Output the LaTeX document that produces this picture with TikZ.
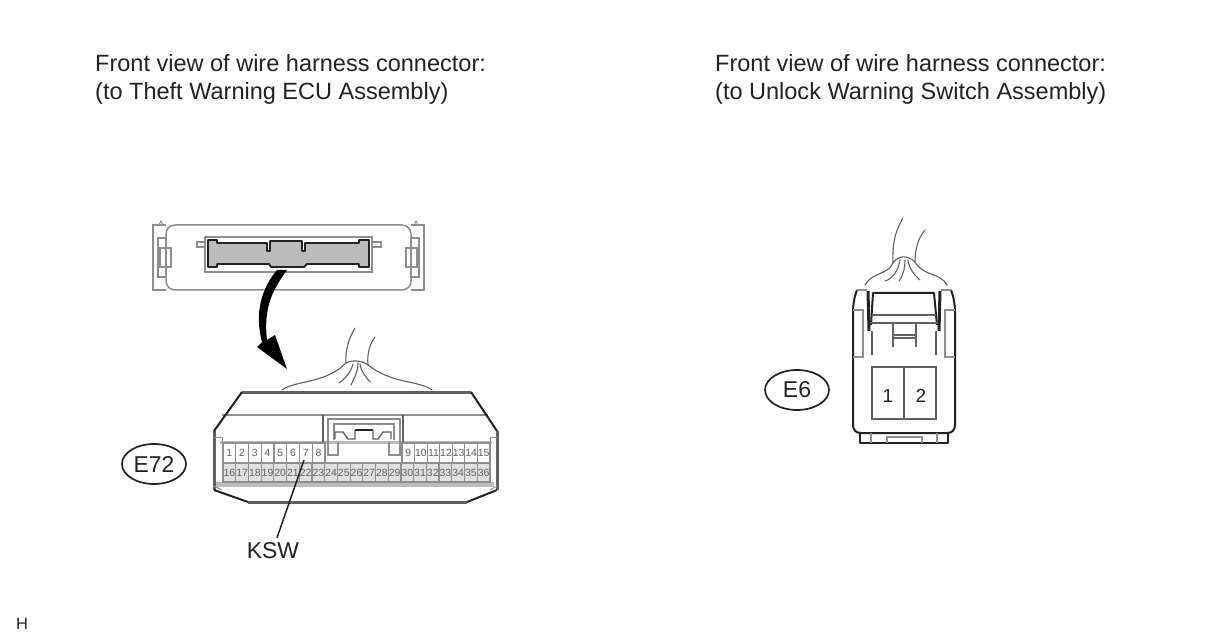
\documentclass[tikz,border=0pt]{standalone}
\usepackage{fontspec}
\setmainfont{Liberation Sans}
\definecolor{ink}{HTML}{222222}
\definecolor{mid}{HTML}{606060}
\definecolor{soft}{HTML}{8E8E8E}
\definecolor{band}{HTML}{BBBBBB}
\definecolor{pale}{HTML}{E0E0E0}
\tikzset{
  title/.style={anchor=base west,inner sep=0pt,text=ink,font=\fontsize{23.6}{26}\selectfont},
  tag/.style={draw=ink,line width=1.7bp,ellipse,minimum width=64bp,minimum height=40bp,inner sep=0pt,text=ink,font=\fontsize{23}{25}\selectfont},
  label/.style={anchor=base,inner sep=0pt,text=ink,font=\fontsize{23}{25}\selectfont},
  pinno/.style={inner sep=0pt,text=mid,font=\fontsize{10.5}{11}\selectfont},
  bold/.style={draw=ink,line width=2bp,line join=round},
  heavy/.style={draw=mid,line width=3bp},
  thin/.style={draw=soft,line width=1.5bp},
  wire/.style={draw=mid,line width=1.1bp,line cap=round},
}
\usetikzlibrary{shapes.geometric}
\begin{document}
\begin{tikzpicture}[x=1bp,y=-1bp]
\useasboundingbox (0,0) rectangle (1208,644);
\fill[white] (0,0) rectangle (1208,644);

% titles
\node[title] (t1) at (95,72) {Front view of wire harness connector:};
\node[title] (t2) at (95,100) {(to Theft Warning ECU Assembly)};
\node[title] (t3) at (715,72) {Front view of wire harness connector:};
\node[title] (t4) at (715,100) {(to Unlock Warning Switch Assembly)};
\node[anchor=base west,inner sep=0pt,text=ink,font=\fontsize{16.5}{18}\selectfont] (h) at (16,629) {H};

% --- top view of ECU connector
\draw[thin] (166,225) -- (153,225) -- (153,290) -- (166,290);
\draw[thin] (411,225) -- (424,225) -- (424,290) -- (411,290);
\draw[thin,rounded corners=9bp] (166,290) -- (166,225) -- (411,225) -- (411,290) -- cycle;
\draw[thin,line width=.9bp] (159,225) -- (161,221) -- (163,225);
\draw[thin,line width=.9bp] (414,225) -- (416,221) -- (418,225);
\draw[thin] (158,238) rectangle (166,277);
\draw[thin] (160,248) rectangle (171,267);
\draw[thin] (411,238) rectangle (419,277);
\draw[thin] (406,248) rectangle (417,267);
\draw[thin] (205,242) -- (197,242) -- (197,247) -- (205,247);
\draw[thin] (372,242) -- (381,242) -- (381,247) -- (372,247);
\draw[thin,line width=1.8bp] (205,237) rectangle (372,272);
\filldraw[fill=band,draw=ink,line width=1.8bp,line join=round]
  (208,240) -- (217,240) -- (217,243) -- (267,243) -- (267,251) -- (270,251) -- (270,241)
  -- (302,241) -- (302,251) -- (305,251) -- (305,243) -- (359,243) -- (359,240) -- (369,240)
  -- (369,267) -- (359,267) -- (359,264) -- (307,264) -- (304,267) -- (271,267) -- (269,264)
  -- (217,264) -- (217,267) -- (208,267) -- cycle;

% curved arrow
\fill[black] (277,270) -- (287,270) .. controls (274,288) and (263,306) .. (267,340)
  -- (275,335) -- (287,369) -- (257,347) -- (262,342)
  .. controls (254,312) and (262,288) .. (277,270) -- cycle;

% --- E72 body
\draw[thin] (222,415) -- (488,415);
\fill[band] (220,441) rectangle (492,444);
\fill[band] (216,482) rectangle (494,487);
\fill[pale] (223,463) rectangle (490,482);
\draw[heavy] (242,392) -- (471,392);
\draw[heavy] (248,502) -- (467,502);
\draw[heavy] (214,431) -- (214,490);
\draw[heavy] (497,431) -- (497,490);
\draw[bold] (214,431) -- (242,392);
\draw[bold] (471,392) -- (497,431);
\draw[bold] (214,490) -- (248,502);
\draw[bold] (467,502) -- (497,490);
\draw[thin,line width=1bp] (214,437) -- (222,437) -- (222,443);
\draw[thin,line width=1bp] (497,437) -- (490,437) -- (490,443);
\draw[thin,line width=1bp] (214,486) -- (222,490);
\draw[thin,line width=1bp] (497,486) -- (490,490);

% centre housing
\draw[draw=mid,line width=1.4bp] (323,415) -- (323,442);
\draw[draw=mid,line width=1.4bp] (403,415) -- (403,442);
\draw[thin,line width=1.7bp] (338,442) -- (338,455) -- (328,455) -- (328,419) -- (400,419) -- (400,455) -- (389,455) -- (389,442);
\draw[thin,line width=1.7bp] (334,440) -- (334,424) -- (394,424) -- (394,440);
\draw[draw=mid,line width=1.4bp] (335,439) -- (335,432) -- (343,432) -- (348,439) -- (355,439) -- (355,430);
\draw[draw=ink,line width=2bp] (355,430) -- (373,430);
\draw[draw=mid,line width=1.4bp] (373,430) -- (373,439) -- (378,439) -- (383,432) -- (391,432) -- (391,439);

% pin cells
\draw[thin,line width=1.2bp] (325,463) -- (325,443) -- (223,443) -- (223,482) -- (490,482) -- (490,443) -- (402,443) -- (402,463);
\draw[thin,line width=1.2bp] (223,463) -- (490,463);
\foreach \i in {1,...,7} \draw[thin,line width=1.2bp] ({223+\i*12.75},443) -- ({223+\i*12.75},463);
\foreach \i in {1,...,6} \draw[thin,line width=1.2bp] ({402+\i*12.57},443) -- ({402+\i*12.57},463);
\foreach \i in {1,...,20} \draw[thin,line width=1.2bp] ({223+\i*12.71},463) -- ({223+\i*12.71},482);
\foreach \n [count=\i from 0] in {1,...,8} \node[pinno] (p\n) at ({229.4+\i*12.75},453) {\n};
\foreach \n [count=\i from 0] in {9,...,15} \node[pinno] (p\n) at ({408.3+\i*12.57},453) {\n};
\foreach \n [count=\i from 0] in {16,...,36} \node[pinno] (p\n) at ({229.4+\i*12.71},472.5) {\n};

% E72 wires
\draw[wire] (355,328) .. controls (349,338) and (345,350) .. (346,363);
\draw[wire] (375,337) .. controls (369,345) and (367,355) .. (368,365);
\draw[wire] (346,363) .. controls (351,360) and (362,360) .. (368,365);
\draw[wire] (282,390) .. controls (296,380) and (325,384) .. (346,363);
\draw[wire] (432,390) .. controls (418,380) and (392,384) .. (368,365);
\draw[wire] (339,383) .. controls (345,379) and (351,372) .. (353,364);
\draw[wire] (351,385) .. controls (354,378) and (358,372) .. (358,363);
\draw[wire] (370,382) .. controls (366,377) and (361,372) .. (360,364);

% tags and leader
\node[tag] (e72) at (154,464) {E72};
\node[label] (ksw) at (273,558) {KSW};
\coordinate (kswpin) at (304,460);
\draw[draw=ink,line width=1.5bp] (ksw.north) ++(4,-4) -- (kswpin);

% --- E6 connector
\node[tag] (e6) at (797,390) {E6};
\draw[bold] (857,290) .. controls (854,298) and (853,305) .. (853,312) -- (853,425)
  .. controls (853,430) and (856,433) .. (861,433) -- (947,433)
  .. controls (952,433) and (955,430) .. (955,425) -- (955,312)
  .. controls (955,305) and (954,298) .. (951,290);
\draw[thin] (857,290) -- (867,290);
\draw[thin] (941,290) -- (951,290);
\draw[draw=soft,line width=1.1bp] (853,310) -- (863,310) -- (863,357) -- (853,357);
\draw[draw=soft,line width=1.1bp] (955,310) -- (945,310) -- (945,357) -- (955,357);
\draw[draw=mid,line width=1.1bp] (872,331) -- (872,355);
\draw[draw=mid,line width=1.1bp] (936,331) -- (936,355);
\draw[draw=ink,line width=3bp] (868,291) -- (869,331);
\draw[draw=ink,line width=3bp] (940,291) -- (939,331);
\draw[bold] (871,325) -- (873,293) -- (934,293) -- (937,325);
\draw[draw=mid,line width=1.3bp] (872,315) -- (936,315);
\draw[draw=mid,line width=1.3bp] (870,323) -- (938,323);
\draw[draw=mid,line width=1.1bp] (893,323) -- (893,347);
\draw[draw=mid,line width=1.1bp] (916,323) -- (916,347);
\draw[draw=mid,line width=1.1bp] (893,335) -- (916,335);
\draw[draw=mid,line width=1.1bp] (893,338) -- (916,338);
\draw[draw=mid,line width=1.3bp] (872,367) rectangle (936,419);
\draw[draw=mid,line width=1.3bp] (904,367) -- (904,419);
\node[inner sep=0pt,text=ink,font=\fontsize{19}{21}\selectfont] (c1) at (888,396) {1};
\node[inner sep=0pt,text=ink,font=\fontsize{19}{21}\selectfont] (c2) at (921,396) {2};
\draw[bold] (860,433) -- (860,443) -- (948,443) -- (948,433);
\draw[thin] (871,433) -- (871,443);
\draw[thin] (937,433) -- (937,443);
\draw[thin] (887,443) -- (887,437) -- (922,437) -- (922,443);

% E6 wires
\draw[wire] (903,218) .. controls (897,228) and (892,240) .. (893,263);
\draw[wire] (925,230) .. controls (918,238) and (915,250) .. (915,262);
\draw[wire] (893,263) .. controls (898,255) and (908,255) .. (915,262);
\draw[wire] (865,285) .. controls (872,272) and (888,275) .. (893,263);
\draw[wire] (947,285) .. controls (940,272) and (924,277) .. (915,262);
\draw[wire] (885,281) .. controls (892,279) and (898,272) .. (900,260);
\draw[wire] (899,281) .. controls (903,276) and (905,268) .. (905,260);
\draw[wire] (920,280) .. controls (914,275) and (909,268) .. (908,260);
\end{tikzpicture}
\end{document}
